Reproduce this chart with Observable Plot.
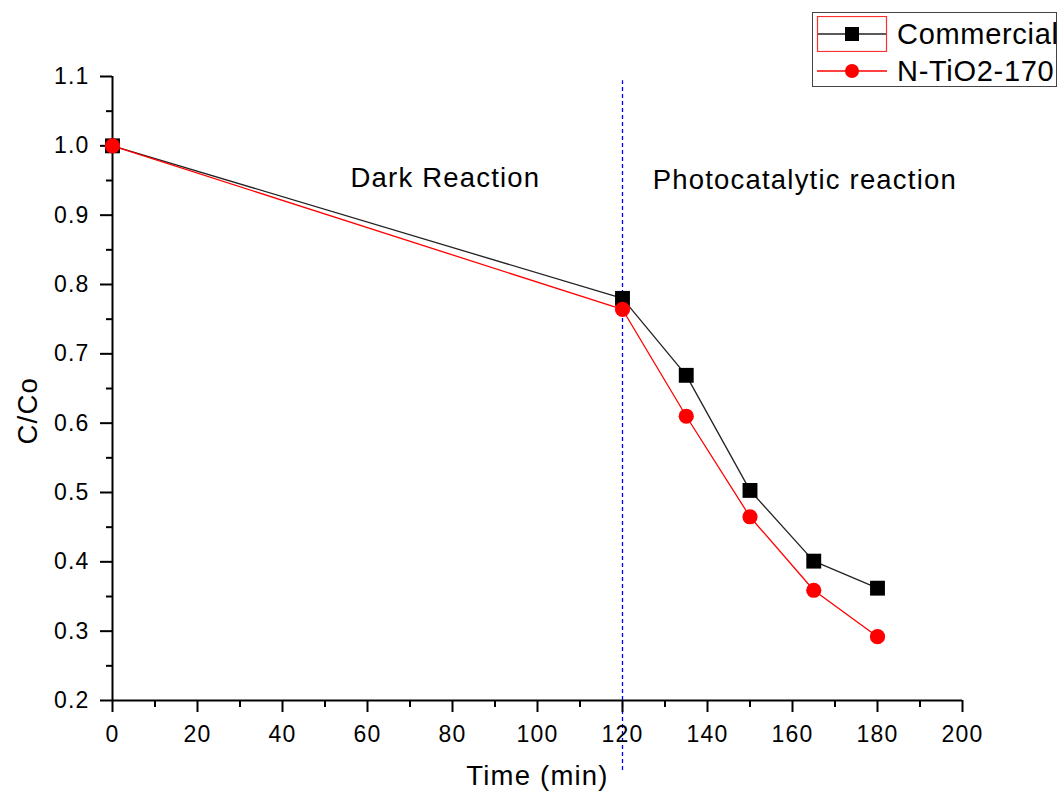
<!DOCTYPE html>
<html>
<head>
<meta charset="utf-8">
<script src="https://cdn.jsdelivr.net/npm/d3@7"></script>
<script src="https://cdn.jsdelivr.net/npm/@observablehq/plot@0.6"></script>
<style>
  body { margin: 0; background: #fff; }
  #wrap { position: relative; width: 1064px; height: 794px; font-family: "Liberation Sans", Arial, sans-serif; }
  #legend { position: absolute; left: 812px; top: 12px; width: 245px; height: 75px; border: 1px solid #444; background: #fff; box-sizing: border-box; }
  .row { position: absolute; left: 0; width: 245px; height: 36px; }
  .row svg { position: absolute; left: 3px; top: 0; }
  .row span { position: absolute; left: 84px; top: 2px; font-size: 29px; line-height: 32px; letter-spacing: 0.7px; color: #000; white-space: nowrap; }
</style>
</head>
<body>
<div id="wrap"></div>
<script>
// ---- data ----
const time = [0, 120, 135, 150, 165, 180];
const commercial = [1.0, 0.78, 0.669, 0.503, 0.401, 0.362];
const ntio2 = [1.0, 0.764, 0.61, 0.465, 0.359, 0.292];
const seriesNames = ["Commercial", "N-TiO2-170"];
const xTicks = [0, 20, 40, 60, 80, 100, 120, 140, 160, 180, 200];
const xMinorTicks = [10, 30, 50, 70, 90, 110, 130, 150, 170, 190];
const yTicks = [0.2, 0.3, 0.4, 0.5, 0.6, 0.7, 0.8, 0.9, 1.0, 1.1];
const yMinorTicks = [0.25, 0.35, 0.45, 0.55, 0.65, 0.75, 0.85, 0.95, 1.05];
const dividerTime = [120];
const dividerRange = [0.099, 1.094];
const annotations = [
  {x: 56, y: 0.954, text: "Dark Reaction"},
  {x: 127.1, y: 0.95, text: "Photocatalytic reaction"}
];

const comData = time.map((t, i) => ({t, v: commercial[i]}));
const nData = time.map((t, i) => ({t, v: ntio2[i]}));

const chart = Plot.plot({
  width: 1064,
  height: 794,
  marginLeft: 112,
  marginRight: 102,
  marginTop: 76,
  marginBottom: 94,
  style: {fontFamily: "'Liberation Sans', Arial, sans-serif", color: "#000", background: "#fff", letterSpacing: "1.2px"},
  x: {domain: [0, 200], label: null},
  y: {domain: [0.2, 1.1], label: null},
  marks: [
    Plot.ruleX(dividerTime, {y1: dividerRange[0], y2: dividerRange[1], stroke: "#0000ff", strokeWidth: 1.3, strokeDasharray: "4,3"}),
    Plot.ruleY([0.2], {stroke: "#000", strokeWidth: 2}),
    Plot.ruleX([0], {stroke: "#000", strokeWidth: 2}),
    Plot.axisX(xTicks, {tickSize: 12, tickPadding: 13, fontSize: 23, strokeWidth: 2, label: null, tickFormat: d => String(d)}),
    Plot.axisX(xMinorTicks, {tickSize: 7, text: null, strokeWidth: 2, label: null}),
    Plot.axisY(yTicks, {tickSize: 12, tickPadding: 11, fontSize: 23, strokeWidth: 2, label: null, tickFormat: d => d.toFixed(1)}),
    Plot.axisY(yMinorTicks, {tickSize: 6, text: null, strokeWidth: 2, label: null}),
    Plot.line(comData, {x: "t", y: "v", stroke: "#222", strokeWidth: 1.3}),
    Plot.line(nData, {x: "t", y: "v", stroke: "#ff0000", strokeWidth: 1.3}),
    Plot.dot(comData, {x: "t", y: "v", symbol: "square", r: 8.4, fill: "#000", stroke: "none"}),
    Plot.dot(nData, {x: "t", y: "v", symbol: "circle", r: 7.6, fill: "#ff0000", stroke: "none"}),
    Plot.text(annotations, {x: "x", y: "y", text: "text", textAnchor: "start", fontSize: 27.5, fill: "#000"}),
    Plot.text(["Time (min)"], {frameAnchor: "bottom", dy: 84, fontSize: 27.5, fill: "#000"}),
    Plot.text(["C/Co"], {frameAnchor: "left", dx: -84, dy: 56, rotate: -90, fontSize: 27.5, fill: "#000"})
  ]
});

const wrap = document.getElementById("wrap");
wrap.appendChild(chart);

// ---- legend ----
const legend = document.createElement("div");
legend.id = "legend";
const symbols = [
  {name: seriesNames[0], color: "#222", fill: "#000", shape: "square"},
  {name: seriesNames[1], color: "#ff0000", fill: "#ff0000", shape: "circle"}
];
symbols.forEach((s, i) => {
  const row = document.createElement("div");
  row.className = "row";
  row.style.top = (i === 0 ? 3 : 40) + "px";
  const ns = "http://www.w3.org/2000/svg";
  const svg = document.createElementNS(ns, "svg");
  svg.setAttribute("width", "72");
  svg.setAttribute("height", "36");
  const line = document.createElementNS(ns, "line");
  line.setAttribute("x1", "1"); line.setAttribute("x2", "71");
  line.setAttribute("y1", "18"); line.setAttribute("y2", "18");
  line.setAttribute("stroke", s.color); line.setAttribute("stroke-width", "1.3");
  svg.appendChild(line);
  let m;
  if (s.shape === "square") {
    m = document.createElementNS(ns, "rect");
    m.setAttribute("x", "29"); m.setAttribute("y", "11");
    m.setAttribute("width", "14"); m.setAttribute("height", "14");
  } else {
    m = document.createElementNS(ns, "circle");
    m.setAttribute("cx", "36"); m.setAttribute("cy", "18"); m.setAttribute("r", "7");
  }
  m.setAttribute("fill", s.fill);
  svg.appendChild(m);
  if (i === 0) {
    const sel = document.createElementNS(ns, "rect");
    sel.setAttribute("x", "1.5"); sel.setAttribute("y", "0.5");
    sel.setAttribute("width", "69"); sel.setAttribute("height", "35");
    sel.setAttribute("fill", "none"); sel.setAttribute("stroke", "#ff3030"); sel.setAttribute("stroke-width", "1.2");
    svg.appendChild(sel);
  }
  row.appendChild(svg);
  const label = document.createElement("span");
  label.textContent = s.name;
  row.appendChild(label);
  legend.appendChild(row);
});
wrap.appendChild(legend);
</script>
</body>
</html>
